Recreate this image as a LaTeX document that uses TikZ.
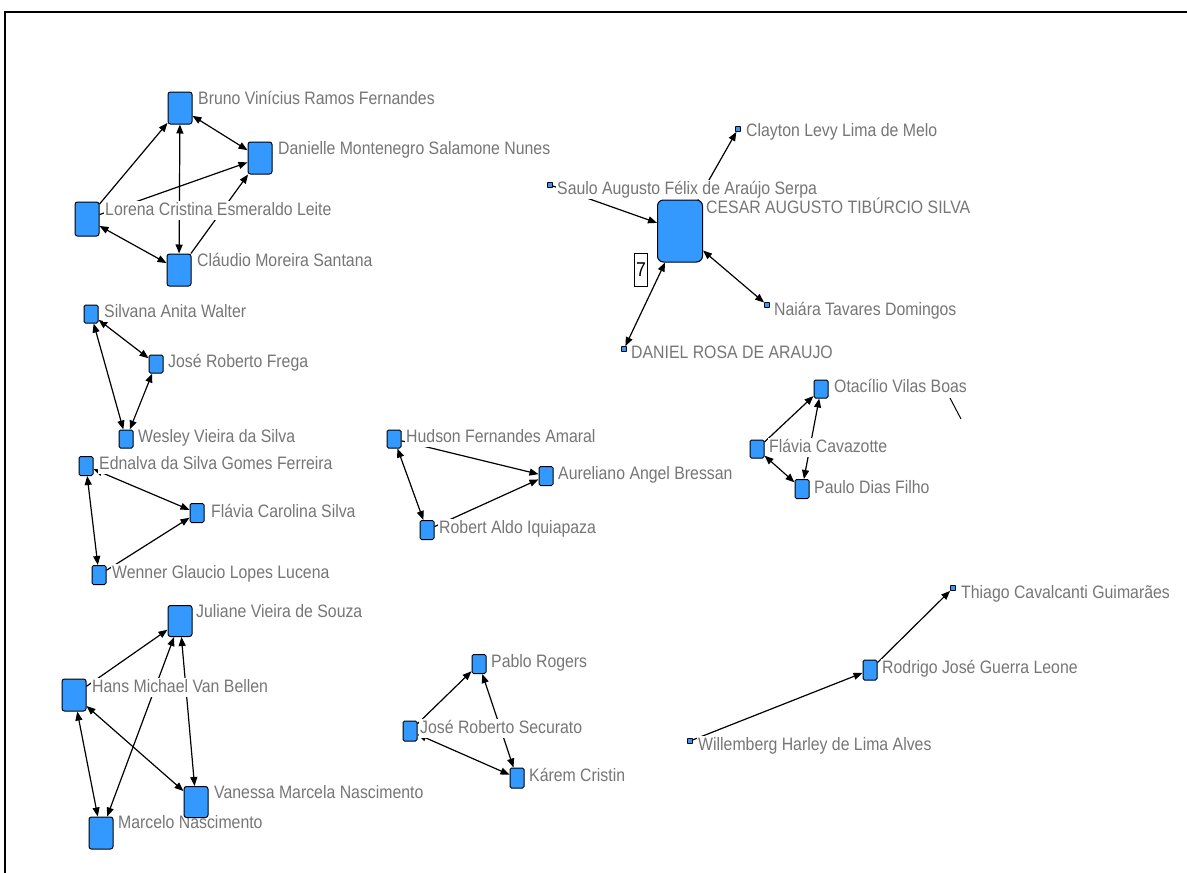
\documentclass[tikz,border=0pt]{standalone}
\usepackage{fontspec}
\setmainfont{Liberation Sans}
\newfontfamily\labelfont[FakeStretch=0.88]{Liberation Sans}
\usetikzlibrary{arrows.meta}
\pgfdeclarelayer{background}
\pgfdeclarelayer{foreground}
\pgfsetlayers{background,main,foreground}
\definecolor{nodeblue}{RGB}{51,153,255}
\definecolor{labelgray}{RGB}{118,118,118}
\tikzset{
  actor/.style={rectangle, draw=black, fill=nodeblue, line width=1pt, rounded corners=2.5pt, inner sep=0pt},
  bigbox/.style={actor, minimum width=24pt, minimum height=32pt},
  midbox/.style={actor, minimum width=14pt, minimum height=19pt, rounded corners=1.5pt},
  tinybox/.style={actor, minimum width=5pt, minimum height=5pt, rounded corners=0.5pt, line width=0.8pt},
  personlabel/.style={anchor=west, fill=white, inner sep=1pt, yshift=-1.5pt, text=labelgray, font=\labelfont\fontsize{18}{20}\selectfont, text height=13pt, text depth=4pt},
  link/.style={line width=1.2pt, black},
  mytip/.tip={Triangle[length=9pt,width=7pt]},
  onearrow/.style={link, -mytip},
  twoarrow/.style={link, mytip-mytip},
}
\begin{document}
\begin{tikzpicture}[x=1pt,y=-1pt]
\useasboundingbox (0,0) rectangle (1187,873);
\begin{pgfonlayer}{background}
\fill[white] (0,0) rectangle (1187,873);
\end{pgfonlayer}
\draw[line width=2.5pt] (5,873) -- (5,12) -- (1187,12);

% ---- actor boxes (drawn on top of everything) ----
\begin{pgfonlayer}{foreground}
\node[bigbox] (bruno) at (180,108) {};
\node[bigbox] (danielle) at (260,158) {};
\node[bigbox, minimum height=34pt] (lorena) at (87,219) {};
\node[bigbox] (claudio) at (179,270) {};
\node[actor, minimum width=45pt, minimum height=62pt, rounded corners=6pt] (cesar) at (680,231) {};
\node[tinybox] (saulo) at (550,185) {};
\node[tinybox] (clayton) at (738,129) {};
\node[tinybox] (naiara) at (767,305) {};
\node[tinybox] (daniel) at (624,349) {};
\node[midbox, minimum height=18pt] (silvana) at (91,314) {};
\node[midbox, minimum height=18pt] (frega) at (156,364) {};
\node[midbox, minimum height=18pt] (wesley) at (126,439) {};
\node[midbox] (ednalva) at (86,466) {};
\node[midbox] (flaviacar) at (197,513) {};
\node[midbox] (wenner) at (99,575) {};
\node[midbox, minimum height=18pt] (hudson) at (394,439) {};
\node[midbox] (aureliano) at (546,476) {};
\node[midbox] (robert) at (427,530) {};
\node[midbox, minimum height=18pt] (otacilio) at (821,389) {};
\node[midbox, minimum height=18pt] (flaviacav) at (757,449) {};
\node[midbox] (paulo) at (802,489) {};
\node[bigbox, minimum height=31pt] (juliane) at (180,621) {};
\node[bigbox] (hans) at (74,695) {};
\node[bigbox, minimum height=31pt] (vanessa) at (196,802) {};
\node[bigbox] (marcelo) at (101,833) {};
\node[midbox] (pablo) at (479,664) {};
\node[midbox, minimum height=20pt] (securato) at (410,731) {};
\node[midbox, minimum height=20pt] (karem) at (517,778) {};
\node[tinybox] (thiago) at (953,588) {};
\node[midbox, minimum height=20pt] (rodrigo) at (870,670) {};
\node[tinybox] (willemberg) at (690,741) {};
\end{pgfonlayer}

\node[draw=black, line width=1.2pt, minimum width=13pt, minimum height=33pt, inner sep=0pt, font=\labelfont\fontsize{20}{20}\selectfont] (seven) at (641,270) {7};

% ---- labels ----
\node[personlabel] (lbruno) at (197,98) {Bruno Vinícius Ramos Fernandes};
\node[personlabel] (ldanielle) at (277,148) {Danielle Montenegro Salamone Nunes};
\node[personlabel] (llorena) at (104,209) {Lorena Cristina Esmeraldo Leite};
\node[personlabel] (lclaudio) at (196,260) {Cláudio Moreira Santana};
\node[personlabel] (lclayton) at (745,130) {Clayton Levy Lima de Melo};
\node[personlabel] (lcesar) at (705,207) {CESAR AUGUSTO TIBÚRCIO SILVA};
\node[personlabel] (lsaulo) at (556,188) {Saulo Augusto Félix de Araújo Serpa};
\node[personlabel] (lnaiara) at (773,309) {Naiára Tavares Domingos};
\node[personlabel] (ldaniel) at (630,352) {DANIEL ROSA DE ARAUJO};
\node[personlabel] (lsilvana) at (103,311) {Silvana Anita Walter};
\node[personlabel] (lfrega) at (167,361) {José Roberto Frega};
\node[personlabel] (lwesley) at (137,436) {Wesley Vieira da Silva};
\node[personlabel] (lednalva) at (98,463) {Ednalva da Silva Gomes Ferreira};
\node[personlabel] (lflaviacar) at (210,511) {Flávia Carolina Silva};
\node[personlabel] (lwenner) at (111,572) {Wenner Glaucio Lopes Lucena};
\node[personlabel] (lhudson) at (405,436) {Hudson Fernandes Amaral};
\node[personlabel] (laureliano) at (557,473) {Aureliano Angel Bressan};
\node[personlabel] (lrobert) at (438,527) {Robert Aldo Iquiapaza};
\node[personlabel] (lotacilio) at (833,386) {Otacílio Vilas Boas};
\node[personlabel] (lflaviacav) at (768,446) {Flávia Cavazotte};
\node[personlabel] (lpaulo) at (813,487) {Paulo Dias Filho};
\node[personlabel] (ljuliane) at (195,611) {Juliane Vieira de Souza};
\node[personlabel] (lhans) at (91,686) {Hans Michael Van Bellen};
\node[personlabel] (lvanessa) at (213,792) {Vanessa Marcela Nascimento};
\node[personlabel] (lmarcelo) at (117,822) {Marcelo Nascimento};
\node[personlabel] (lpablo) at (490,661) {Pablo Rogers};
\node[personlabel] (lsecurato) at (419,727) {José Roberto Securato};
\node[personlabel] (lkarem) at (528,775) {Kárem Cristin};
\node[personlabel] (lthiago) at (960,592) {Thiago Cavalcanti Guimarães};
\node[personlabel] (lrodrigo) at (881,667) {Rodrigo José Guerra Leone};
\node[personlabel] (lwillemberg) at (697,744) {Willemberg Harley de Lima Alves};

% ---- edges (under labels and boxes) ----
\begin{pgfonlayer}{background}
\draw[onearrow] (lorena) -- (bruno);
\draw[twoarrow] (bruno) -- (claudio);
\draw[twoarrow] (bruno) -- (danielle);
\draw[onearrow] (lorena) -- (danielle);
\draw[onearrow] (claudio) -- (danielle);
\draw[twoarrow] (lorena) -- (claudio);
\draw[onearrow] (saulo) -- (cesar);
\draw[onearrow] (cesar) -- (clayton);
\draw[twoarrow] (cesar) -- (naiara);
\draw[twoarrow] (cesar) -- (daniel);
\draw[twoarrow] (silvana) -- (frega);
\draw[twoarrow] (silvana) -- (wesley);
\draw[twoarrow] (frega) -- (wesley);
\draw[twoarrow] (ednalva) -- (flaviacar);
\draw[twoarrow] (ednalva) -- (wenner);
\draw[onearrow] (wenner) -- (flaviacar);
\draw[onearrow] (hudson) -- (aureliano);
\draw[twoarrow] (hudson) -- (robert);
\draw[onearrow] (robert) -- (aureliano);
\draw[onearrow] (flaviacav) -- (otacilio);
\draw[twoarrow] (paulo) -- (otacilio);
\draw[twoarrow] (flaviacav) -- (paulo);
\draw[onearrow] (hans) -- (juliane);
\draw[twoarrow] (marcelo) -- (juliane);
\draw[twoarrow] (juliane) -- (vanessa);
\draw[twoarrow] (hans) -- (vanessa);
\draw[twoarrow] (hans) -- (marcelo);
\draw[onearrow] (securato) -- (pablo);
\draw[twoarrow] (karem) -- (pablo);
\draw[twoarrow] (securato) -- (karem);
\draw[onearrow] (rodrigo) -- (thiago);
\draw[onearrow] (willemberg) -- (rodrigo);
\draw[link, line width=1pt] (950,398) -- (961,419);
\end{pgfonlayer}
\end{tikzpicture}
\end{document}
